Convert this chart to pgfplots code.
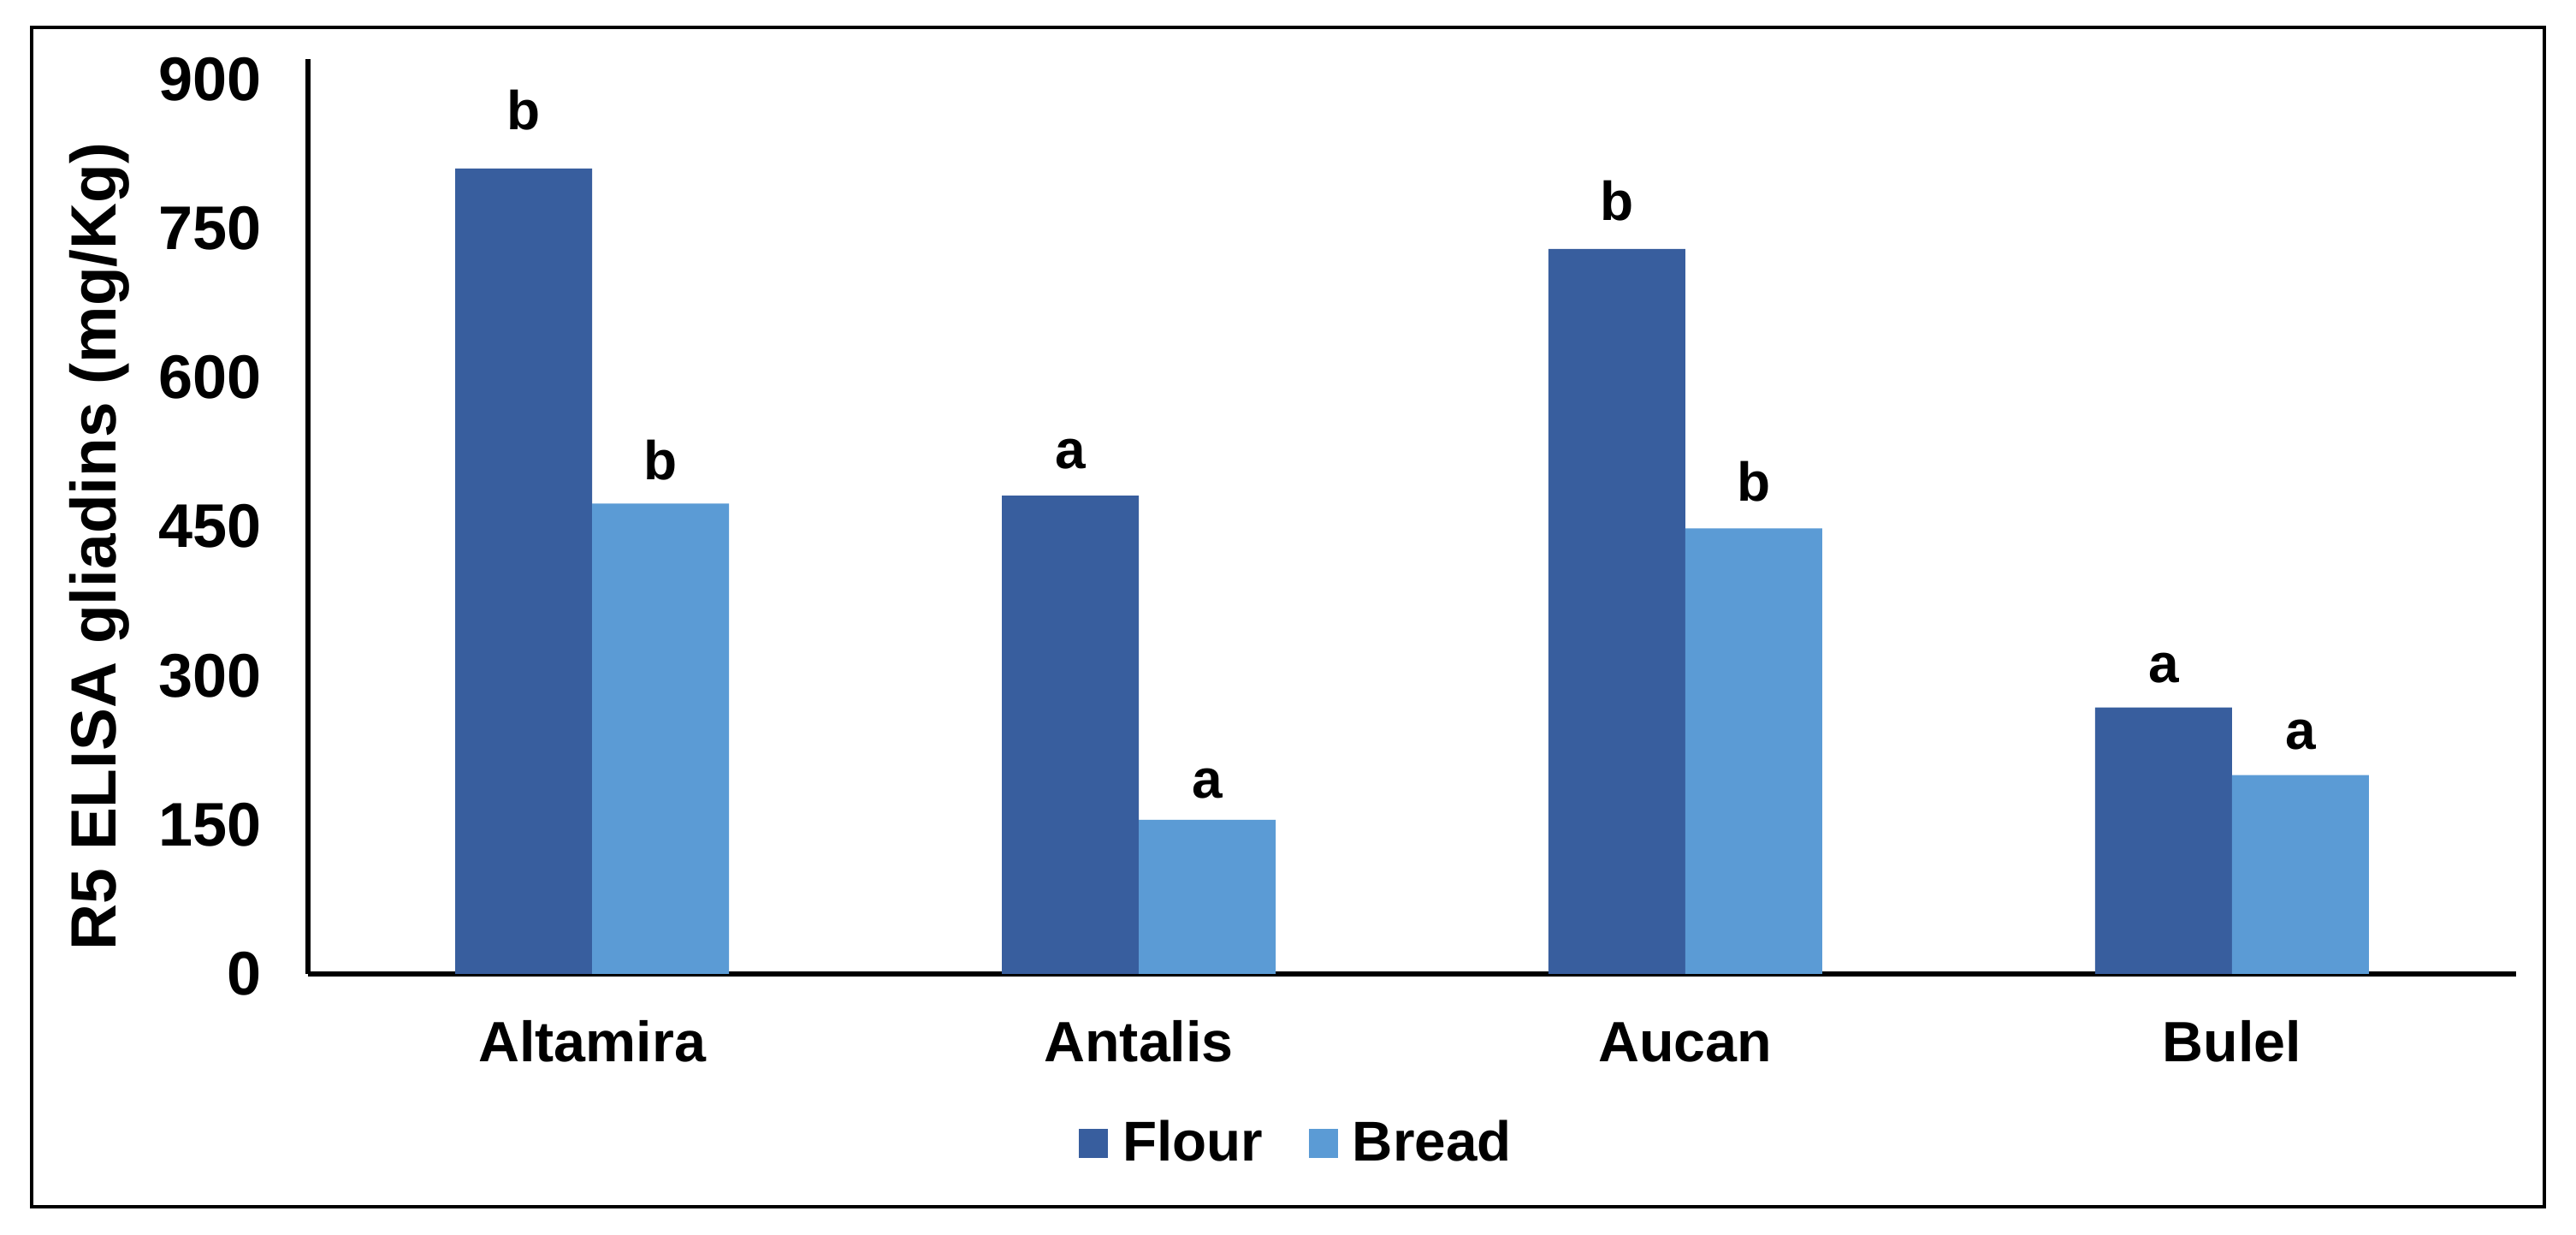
\documentclass[border=0pt]{standalone}
\usepackage{fontspec}
\setmainfont{Liberation Sans}
\usepackage{pgfplots}
\usepackage{pgfplotstable}
\pgfplotsset{compat=1.18}
\definecolor{flour}{RGB}{56,94,158}
\definecolor{bread}{RGB}{91,155,213}

\pgfplotstableread{
x y lab off
0 810 b 11.25
1 481 a 8
2 729 b 8.25
3 268 a 7.25
}\flourdata
\pgfplotstableread{
x y lab off
0 473 b 7
1 155 a 6.25
2 448 b 8
3 200 a 7.5
}\breaddata

\begin{document}
\begin{tikzpicture}
\useasboundingbox (0,0) rectangle (752.75pt,360.75pt);
\fill[white] (0,0) rectangle (752.75pt,360.75pt);
\draw[line width=1pt] (9.25pt,8.25pt) rectangle (743.5pt,352.75pt);
\begin{axis}[
  at={(90pt,76.25pt)}, anchor=south west,
  scale only axis, width=645.25pt, height=267.25pt,
  xmin=-0.52, xmax=3.52, ymin=0, ymax=920,
  ybar=0pt,
  axis lines=left,
  axis line style={-, line width=1.4pt, black},
  major tick length=0pt,
  xtick={0,1,2,3},
  xticklabels={Altamira,Antalis,Aucan,Bulel},
  ytick={0,150,300,450,600,750,900},
  /pgf/number format/assume math mode=true,
  yticklabel style={font=\fontsize{18}{20}\selectfont\bfseries, anchor=east, inner sep=0pt, xshift=-13.5pt},
  xticklabel style={font=\fontsize{16.6}{19}\selectfont\bfseries, anchor=base, inner sep=0pt, yshift=-25.7pt},
  ylabel={R5 ELISA gliadins (mg/Kg)},
  ylabel style={font=\fontsize{18.7}{21}\selectfont\bfseries, at={(axis description cs:-0.0869,0.4672)}, anchor=base, inner sep=0pt},
  legend columns=2,
  legend style={draw=none, fill=none, at={(axis description cs:0.4471,-0.1852)}, anchor=center,
    font=\fontsize{16.4}{19}\selectfont\bfseries, inner sep=0pt, nodes={inner sep=0pt},
    /tikz/every odd column/.append style={column sep=4.25pt},
    /tikz/every even column/.append style={column sep=13.5pt}},
  clip=false,
]
\addplot[fill=flour, draw=none, bar width=40pt, bar shift=-20pt,
  legend image code/.code={\fill[flour] (0pt,-4.25pt) rectangle (8.5pt,4.25pt);},
  nodes near coords, point meta=explicit symbolic,
  visualization depends on={\thisrow{off} \as \myoff},
  nodes near coords style={anchor=base, inner sep=0pt, yshift=\myoff pt, font=\fontsize{16}{18}\selectfont\bfseries, text=black}]
  table[x=x, y=y, meta=lab] {\flourdata};
\addlegendentry{Flour}
\addplot[fill=bread, draw=none, bar width=40pt, bar shift=20pt,
  legend image code/.code={\fill[bread] (0pt,-4.25pt) rectangle (8.5pt,4.25pt);},
  nodes near coords, point meta=explicit symbolic,
  visualization depends on={\thisrow{off} \as \myoff},
  nodes near coords style={anchor=base, inner sep=0pt, yshift=\myoff pt, font=\fontsize{16}{18}\selectfont\bfseries, text=black}]
  table[x=x, y=y, meta=lab] {\breaddata};
\addlegendentry{Bread}
\end{axis}
\end{tikzpicture}
\end{document}
